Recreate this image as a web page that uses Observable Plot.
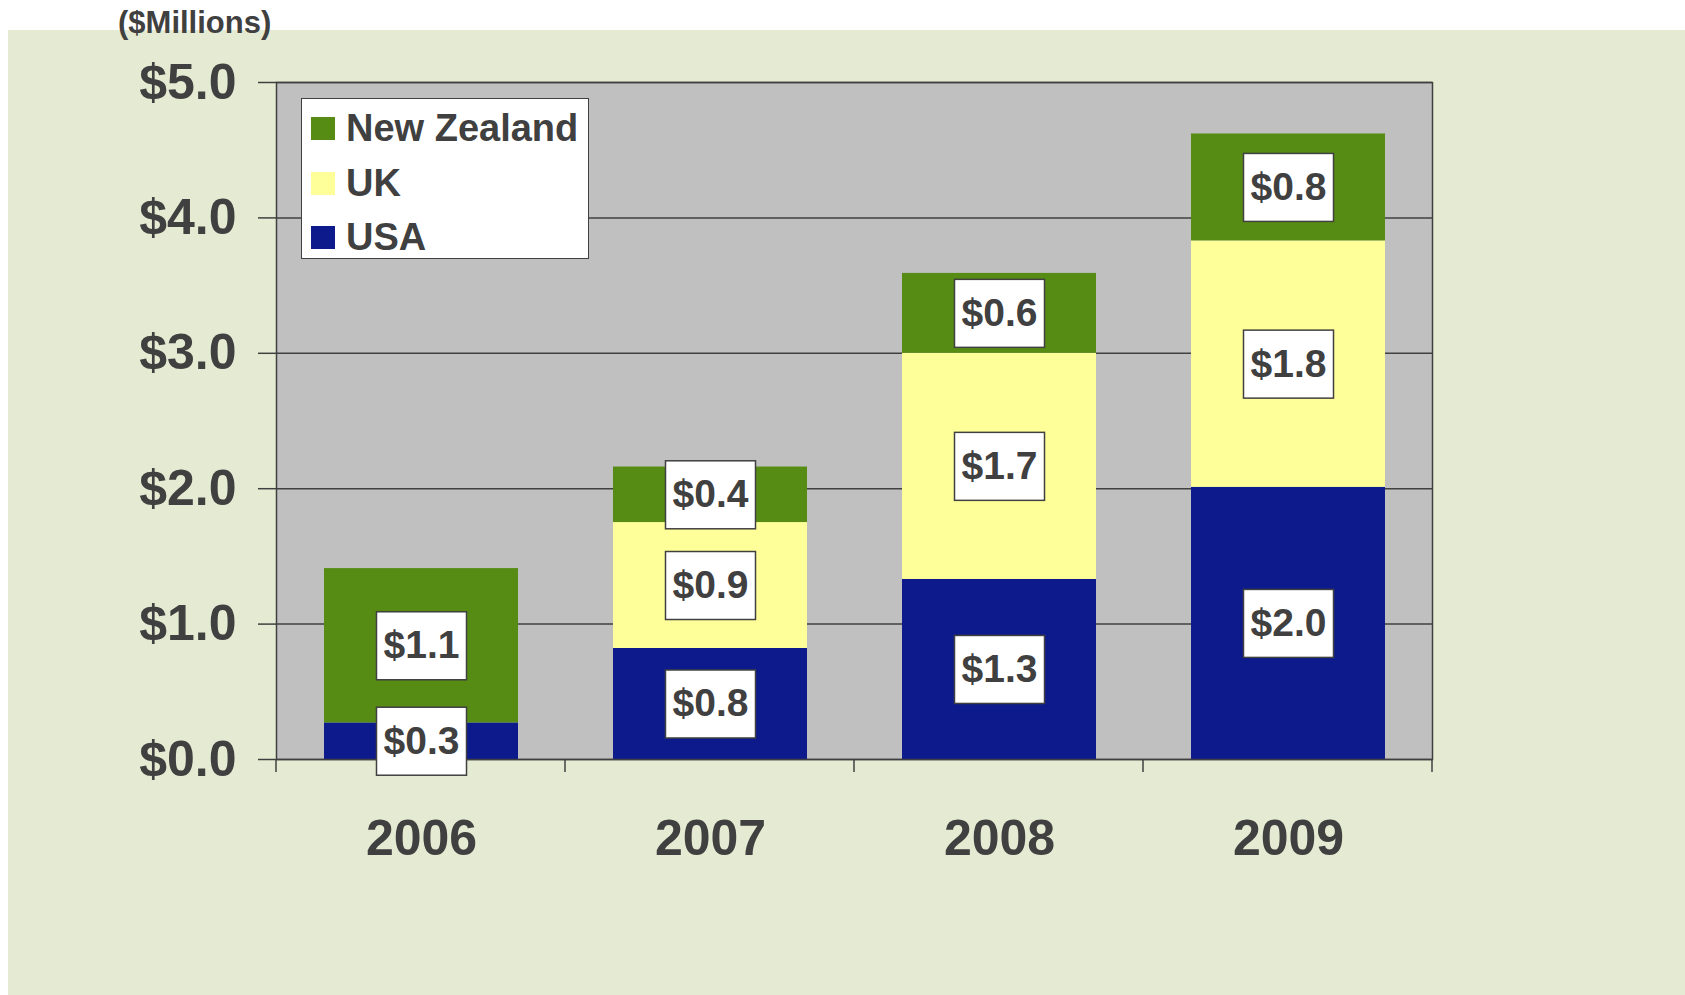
<!DOCTYPE html>
<html><head><meta charset="utf-8">
<script src="https://cdn.jsdelivr.net/npm/d3@7"></script>
<script src="https://cdn.jsdelivr.net/npm/@observablehq/plot@0.6"></script>
<style>
html,body{margin:0;padding:0;background:#fff;}
body{width:1685px;height:995px;position:relative;overflow:hidden;font-family:"Liberation Sans",Arial,Helvetica,sans-serif;color:#404040;}
#bg{position:absolute;left:8px;top:30px;right:0;bottom:0;background:#E5EBD2;}
#chart{position:absolute;left:0;top:0;}
#unit{position:absolute;left:118px;top:5px;font-size:31px;font-weight:bold;line-height:36px;white-space:nowrap;}
#legend{position:absolute;left:301px;top:98px;width:288px;height:161px;box-sizing:border-box;background:#fff;border:1.5px solid #404040;}
.row{position:absolute;left:9px;height:40px;display:flex;align-items:center;font-size:38px;font-weight:bold;white-space:nowrap;}
.sw{width:24px;height:23px;margin-right:11px;flex:none;}
</style></head>
<body>
<div id="bg"></div>
<div id="chart"></div>
<div id="unit">($Millions)</div>
<div id="legend"></div>
<script>
// ---- data ----
const years = ["2006", "2007", "2008", "2009"];
const countries = ["USA", "UK", "New Zealand"];
const usa = [0.27, 0.82, 1.33, 2.01];
const uk = [0, 0.93, 1.67, 1.82];
const newZealand = [1.14, 0.41, 0.59, 0.79];
const colors = ["#0C1A8C", "#FFFF99", "#568C14"];
const yTicks = [0, 1, 2, 3, 4, 5];

const series = {"USA": usa, "UK": uk, "New Zealand": newZealand};
const rows = [];
years.forEach((yr, i) => countries.forEach(c => rows.push({year: yr, country: c, value: series[c][i]})));

const INK = "#404040";
const FONT = '"Liberation Sans", Arial, Helvetica, sans-serif';

function boundaryTicks(index, scales, values, dims) {
  const g = d3.create("svg:g").attr("stroke", INK).attr("stroke-width", 1.5);
  const x0 = dims.marginLeft, x1 = dims.width - dims.marginRight;
  const step = (x1 - x0) / years.length;
  const yb = dims.height - dims.marginBottom;
  for (let i = 0; i <= years.length; i++) {
    const xx = x0 + i * step;
    g.append("line").attr("x1", xx).attr("x2", xx).attr("y1", yb).attr("y2", yb + 13);
  }
  return g.node();
}

function withBoxes(index, scales, values, dims, ctx, next) {
  const g = next(index, scales, values, dims, ctx);
  g.querySelectorAll("text").forEach(t => {
    const r = document.createElementNS("http://www.w3.org/2000/svg", "rect");
    let tr = t.getAttribute("transform");
    if (!tr) tr = `translate(${t.getAttribute("x") || 0},${t.getAttribute("y") || 0})`;
    r.setAttribute("transform", tr);
    r.setAttribute("x", -45); r.setAttribute("y", -34);
    r.setAttribute("width", 90); r.setAttribute("height", 68);
    r.setAttribute("fill", "#fff"); r.setAttribute("stroke", INK); r.setAttribute("stroke-width", 1.5);
    t.parentNode.insertBefore(r, t);
  });
  return g;
}

const chart = Plot.plot({
  width: 1685, height: 995,
  marginLeft: 276, marginRight: 253, marginTop: 82, marginBottom: 236,
  style: {background: "transparent", fontFamily: FONT, color: INK, overflow: "visible"},
  x: {domain: years, paddingInner: 0.33, paddingOuter: 0.165, label: null},
  y: {domain: [0, 5], label: null},
  color: {domain: countries, range: colors},
  marks: [
    Plot.frame({fill: "#C0C0C0", stroke: null}),
    Plot.gridY(yTicks, {stroke: INK, strokeOpacity: 1, strokeWidth: 1.5}),
    Plot.barY(rows, Plot.stackY({x: "year", y: "value", fill: "country", order: countries})),
    Plot.frame({stroke: INK, strokeWidth: 1.5}),
    Plot.axisY({ticks: yTicks, tickFormat: d => "$" + d.toFixed(1), tickSize: 18, tickPadding: 22,
      fontSize: 50, fontWeight: "bold", strokeWidth: 1.5, label: null}),
    Plot.axisX({tickSize: 0, tickPadding: 60, fontSize: 50, fontWeight: "bold", label: null}),
    boundaryTicks,
    Plot.text(rows.filter(d => d.value > 0), Plot.stackY({
      x: "year", y: "value", z: "country", order: countries,
      text: d => "$" + d.value.toFixed(1),
      fontSize: 39, fontWeight: "bold", fill: INK,
      render: withBoxes
    }))
  ]
});

d3.select(chart).selectAll('g[aria-label="y-axis tick label"]').attr("font-size", 50).attr("font-weight", "bold");
d3.select(chart).selectAll('g[aria-label="x-axis tick label"]').attr("font-size", 50).attr("font-weight", "bold");
document.getElementById("chart").appendChild(chart);

// legend (top-down: New Zealand, UK, USA)
const legend = document.getElementById("legend");
const rowTops = [9.5, 64.5, 118];
countries.slice().reverse().forEach((c, i) => {
  const row = document.createElement("div");
  row.className = "row";
  row.style.top = rowTops[i] + "px";
  const sw = document.createElement("div");
  sw.className = "sw";
  sw.style.background = colors[countries.indexOf(c)];
  row.appendChild(sw);
  row.appendChild(document.createTextNode(c));
  legend.appendChild(row);
});
</script>
</body></html>
